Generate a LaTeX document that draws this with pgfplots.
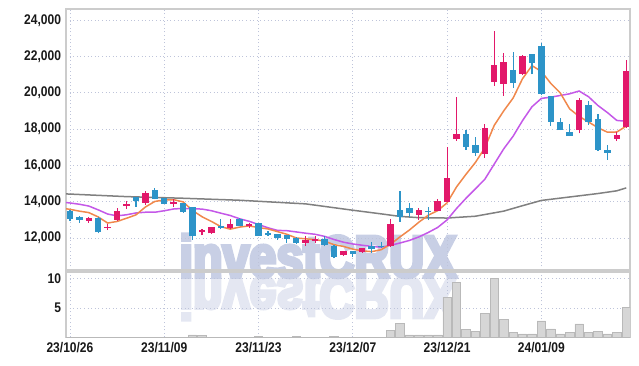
\documentclass[border=0pt]{standalone}
\usepackage{pgfplots}
\pgfplotsset{compat=1.18}
\usepackage{pgfplotstable}
\usepackage{fontspec}
\setmainfont{Liberation Sans}[FakeStretch=0.86]
\newfontfamily\wmfont{Liberation Sans}[FakeStretch=0.82, FakeBold=6]

\definecolor{upc}{RGB}{226,24,106}
\definecolor{dnc}{RGB}{45,148,200}
\definecolor{mafive}{RGB}{240,136,76}
\definecolor{maten}{RGB}{196,88,232}
\definecolor{masixty}{RGB}{128,128,128}
\definecolor{gridc}{RGB}{190,196,218}
\definecolor{framec}{RGB}{204,204,204}
\definecolor{wm}{RGB}{200,207,229}
\definecolor{wmr}{RGB}{228,231,242}
\definecolor{volf}{RGB}{214,214,214}
\definecolor{vold}{RGB}{185,185,185}
\definecolor{tickc}{RGB}{25,25,25}

\pgfplotstableread{
i o h l c
2 12950 13150 12840 13120
4 12570 12790 12440 12620
5 12980 13640 12950 13500
6 13780 14040 13610 13890
8 13930 14610 13830 14480
11 13890 14150 13710 13980
14 12330 12510 12150 12440
15 12260 12620 12230 12590
17 12540 13050 12500 12760
19 12680 12810 12570 12760
25 11740 12110 11560 11890
26 11850 12110 11740 11950
29 11050 11270 11000 11270
31 11250 11470 11200 11470
34 11580 13050 11520 12770
37 13280 13630 12990 13540
39 13500 14150 13470 14040
40 14000 17000 13990 15320
41 17450 19750 17360 17730
44 16630 18280 16410 18060
45 20610 23420 20380 21530
46 20500 22220 19850 21700
48 21040 22070 20980 22030
54 17950 19710 17770 19600
58 17460 17860 17340 17680
59 18130 21810 18080 21200
}\up

\pgfplotstableread{
i o h l c
0 13490 13520 12950 13060
1 13170 13230 12840 13010
3 13120 13150 12260 12310
7 14240 14260 13710 14050
9 14650 14740 14130 14150
10 14190 14210 13880 13890
12 13910 13950 13400 13450
13 13690 13720 11890 12110
16 12660 13050 12480 12540
18 13050 13100 12650 12680
20 12810 12840 12130 12130
21 12280 12380 12100 12170
22 12220 12220 11890 12020
23 12150 12150 11730 11950
24 12020 12050 11650 11740
27 11950 12130 11540 11610
28 11580 11600 10880 10970
30 11270 11270 10970 11140
32 11560 11800 11190 11390
33 11580 11760 11470 11500
35 13540 14590 12900 13170
36 13670 13930 13180 13360
38 13500 13720 12990 13430
42 17730 17950 16850 17010
43 17120 17550 16530 16700
47 21260 22240 20290 20560
49 22140 22140 21020 21660
50 22580 22730 19880 19930
51 19840 19850 18180 18410
52 18390 18610 17950 17950
53 17840 18300 17620 17620
55 19330 19550 18230 18380
56 18560 18830 16810 16850
57 16850 17120 16300 16700
}\down

\pgfplotstableread{
i v
-1 13650
0 13580
1 13480
2 13400
3 13160
4 12824
5 12912
6 13088
7 13274
8 13708
9 14014
10 14092
11 14110
12 13990
13 13516
14 13174
15 12914
16 12626
17 12488
18 12602
19 12666
20 12574
21 12500
22 12352
23 12206
24 12002
25 11954
26 11910
27 11828
28 11632
29 11538
30 11388
31 11292
32 11248
33 11354
34 11654
35 12060
36 12438
37 12868
38 13254
39 13508
40 13938
41 14812
42 15506
43 16160
44 16964
45 18206
46 19000
47 19710
48 20776
49 21496
50 21176
51 20518
52 19996
53 19114
54 18702
55 18392
56 18080
57 17830
58 17842
59 18162
}\mafive

\pgfplotstableread{
i v
-1 13990
0 13930
1 13860
2 13760
3 13550
4 13320
5 13220
6 13280
7 13380
8 13420
9 13419
10 13502
11 13599
12 13632
13 13612
14 13594
15 13503
16 13368
17 13239
18 13059
19 12920
20 12744
21 12563
22 12420
23 12404
24 12334
25 12264
26 12205
27 12090
28 11919
29 11770
30 11671
31 11601
32 11538
33 11493
34 11596
35 11724
36 11865
37 12058
38 12304
39 12581
40 12999
41 13625
42 14187
43 14707
44 15236
45 16072
46 16906
47 17608
48 18468
49 19230
50 19691
51 19759
52 19853
53 19945
54 20099
55 19784
56 19299
57 18913
58 18478
59 18432
}\maten

\pgfplotstableread{
i v
-1 14440
0 14420
6 14280
12 14190
18 14080
25 13880
30 13530
33 13330
35 13190
37 13120
40 13100
43 13200
46 13480
48 13780
50 14070
53 14260
56 14450
58 14600
59 14760
}\masixty

\pgfplotstableread{
i v
0 0.05
1 0.05
2 0.05
3 0.08
4 0.05
5 0.06
6 0.05
7 0.05
8 0.07
9 0.06
10 0.05
11 0.05
12 0.06
13 0.45
14 0.3
15 0.08
16 0.06
17 0.05
18 0.05
19 0.05
20 0.2
21 0.05
22 0.05
23 0.05
24 0.2
25 0.05
26 0.05
27 0.05
28 0.2
29 0.05
30 0.05
31 0.05
32 0.06
33 0.06
34 1.2
35 2.45
36 0.45
37 0.45
38 0.45
39 0.45
40 6.8
41 9.3
42 1.35
43 1.0
44 4.1
45 9.95
46 3.1
47 0.8
48 0.6
49 0.6
50 2.8
51 1.45
52 0.6
53 0.8
54 2.3
55 0.8
56 1.0
57 0.6
58 0.8
59 5.1
}\vol

\pgfplotsset{
  commonax/.style={
    scale only axis, width=564pt, anchor=south west,
    xmin=-0.42, xmax=59.4,
    xtick={0,10,20,30,40,50},
    scaled x ticks=false, scaled y ticks=false,
    grid=major,
    major grid style={gridc, line width=0.8pt, dash pattern=on 1pt off 2.6pt},
    axis line style={framec, line width=1.2pt},
    major tick length=0pt,
    tick style={draw=none},
    yticklabel style={font=\bfseries\fontsize{14}{14}\selectfont, text=tickc, xshift=-1.5pt},
    xticklabel style={font=\bfseries\fontsize{14}{14}\selectfont, text=tickc, yshift=-1pt},
  },
}

\begin{document}
\begin{tikzpicture}
\useasboundingbox (0,0) rectangle (639pt,366pt);
% watermark and its reflection
\node[text=wmr, yscale=-1, font=\wmfont\bfseries\fontsize{59}{59}\selectfont, anchor=base, inner sep=0pt] at (318pt,89pt) {investCRUX};
\node[text=wm, font=\wmfont\bfseries\fontsize{59}{59}\selectfont, anchor=base, inner sep=0pt] at (318pt,89pt) {investCRUX};

\begin{axis}[commonax, at={(66pt,96pt)}, height=261pt,
  ymin=10237, ymax=24618,
  ytick={12000,14000,16000,18000,20000,22000,24000},
  yticklabels={{12,000},{14,000},{16,000},{18,000},{20,000},{22,000},{24,000}},
  xticklabels=\empty,
]
% moving averages
\addplot[masixty, line width=1.5pt, forget plot] table[x=i,y=v] {\masixty};
\addplot[maten, line width=1.5pt, forget plot] table[x=i,y=v] {\maten};
\addplot[mafive, line width=1.5pt, forget plot] table[x=i,y=v] {\mafive};
% wicks
\addplot[draw=none, forget plot, error bars/.cd, y dir=plus, y explicit, error mark=none,
  error bar style={draw=upc, line width=1.1pt}]
  table[x=i, y=l, y error expr=\thisrow{h}-\thisrow{l}] {\up};
\addplot[draw=none, forget plot, error bars/.cd, y dir=plus, y explicit, error mark=none,
  error bar style={draw=dnc, line width=1.1pt}]
  table[x=i, y=l, y error expr=\thisrow{h}-\thisrow{l}] {\down};
% bodies
\addplot[draw=none, forget plot, error bars/.cd, y dir=plus, y explicit, error mark=none,
  error bar style={draw=upc, line width=6.5pt}]
  table[x=i, y=o, y error expr=\thisrow{c}-\thisrow{o}] {\up};
\addplot[draw=none, forget plot, error bars/.cd, y dir=plus, y explicit, error mark=none,
  error bar style={draw=dnc, line width=6.5pt}]
  table[x=i, y=c, y error expr=\thisrow{o}-\thisrow{c}] {\down};
\end{axis}

\begin{axis}[commonax, at={(66pt,28.5pt)}, height=65.5pt,
  ymin=0, ymax=11.1,
  ytick={5,10}, yticklabels={5,10},
  xticklabels={23/10/26,23/11/09,23/11/23,23/12/07,23/12/21,24/01/09},
]
\addplot[ybar, bar width=8.4pt, bar shift=0pt, fill=volf, draw=vold, line width=0.6pt, forget plot]
  table[x=i, y=v] {\vol};
\node[rotate=90, font=\fontsize{11}{11}\selectfont, text=black!70] at (rel axis cs:-0.058,0.57) {$10^{6}$};
\end{axis}
\end{tikzpicture}
\end{document}
